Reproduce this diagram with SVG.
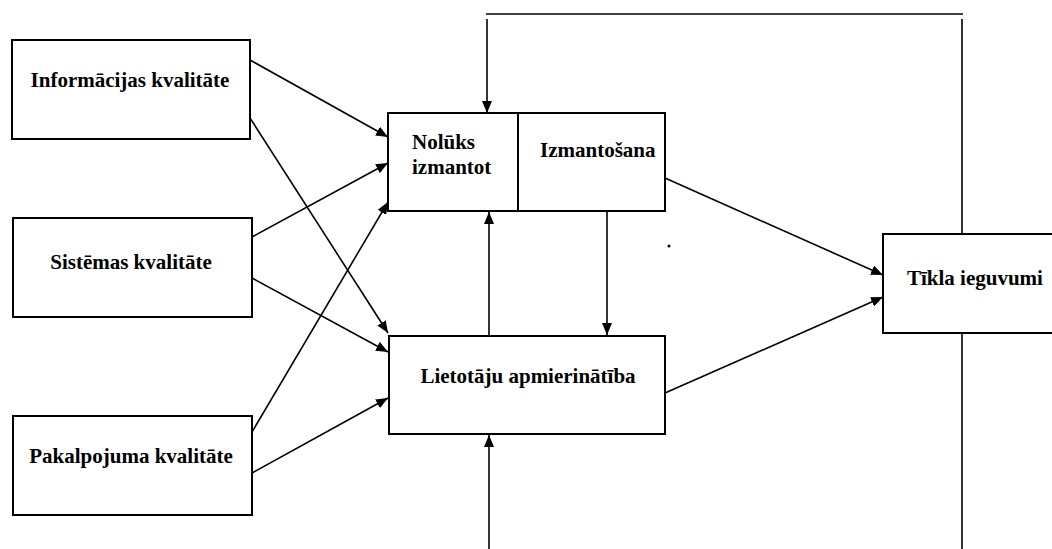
<svg xmlns="http://www.w3.org/2000/svg" width="1052" height="549" viewBox="0 0 1052 549">
  <style>
    .box { fill: #ffffff; stroke: #000000; stroke-width: 2; }
    .lbl { font-family: "Liberation Serif", "Times New Roman", serif; font-weight: bold; font-size: 21px; fill: #000000; }
    .c { text-anchor: middle; }
    .ln { fill: none; stroke: #000000; stroke-width: 1.6; }
    .arr { fill: none; stroke: #000000; stroke-width: 1.6; marker-end: url(#ah); }
  </style>
  <defs>
    <marker id="ah" markerUnits="userSpaceOnUse" markerWidth="13" markerHeight="10" refX="12" refY="5" orient="auto">
      <path d="M0,0 L12,5 L0,10 Z" fill="#000000"/>
    </marker>
  </defs>
  <rect width="1052" height="549" fill="#ffffff"/>

  <g id="connectors">
    <line class="arr" x1="250" y1="60" x2="388" y2="137"/>
    <line class="arr" x1="250" y1="118" x2="388" y2="333"/>
    <line class="arr" x1="252" y1="237" x2="388" y2="163"/>
    <line class="arr" x1="252" y1="278" x2="388" y2="352"/>
    <line class="arr" x1="252" y1="432" x2="388" y2="202"/>
    <line class="arr" x1="252" y1="473" x2="388" y2="398"/>
    <line class="arr" x1="665" y1="178" x2="883" y2="275"/>
    <line class="arr" x1="665" y1="393" x2="883" y2="297"/>
    <line class="arr" x1="489" y1="336" x2="489" y2="212"/>
    <line class="arr" x1="607" y1="211" x2="607" y2="335"/>
    <line class="ln" x1="486" y1="14" x2="963" y2="14"/>
    <line class="arr" x1="487" y1="19" x2="487" y2="113"/>
    <line class="ln" x1="962" y1="19" x2="962" y2="234"/>
    <line class="ln" x1="962" y1="333" x2="962" y2="549"/>
    <line class="arr" x1="489" y1="549" x2="489" y2="435"/>
  </g>

  <g id="node-informacijas">
    <rect class="box" x="12" y="40" width="238" height="99"/>
    <text class="lbl c" x="130" y="87">Informācijas kvalitāte</text>
  </g>
  <g id="node-sistemas">
    <rect class="box" x="13" y="218" width="239" height="99"/>
    <text class="lbl c" x="131" y="269">Sistēmas kvalitāte</text>
  </g>
  <g id="node-pakalpojuma">
    <rect class="box" x="13" y="416" width="239" height="99"/>
    <text class="lbl c" x="131" y="463">Pakalpojuma kvalitāte</text>
  </g>
  <g id="node-noluks">
    <rect class="box" x="388" y="113" width="130" height="98"/>
    <text class="lbl" x="412" y="149">Nolūks</text>
    <text class="lbl" x="412" y="174">izmantot</text>
  </g>
  <g id="node-izmantosana">
    <rect class="box" x="518" y="113" width="147" height="98"/>
    <text class="lbl" x="540" y="157">Izmantošana</text>
  </g>
  <g id="node-lietotaju">
    <rect class="box" x="389" y="336" width="276" height="98"/>
    <text class="lbl c" x="528" y="383">Lietotāju apmierinātība</text>
  </g>
  <g id="node-tikla">
    <rect class="box" x="883" y="234" width="180" height="99"/>
    <text class="lbl" x="907" y="285">Tīkla ieguvumi</text>
  </g>
  <circle cx="669" cy="246" r="1.5" fill="#000000"/>
</svg>
